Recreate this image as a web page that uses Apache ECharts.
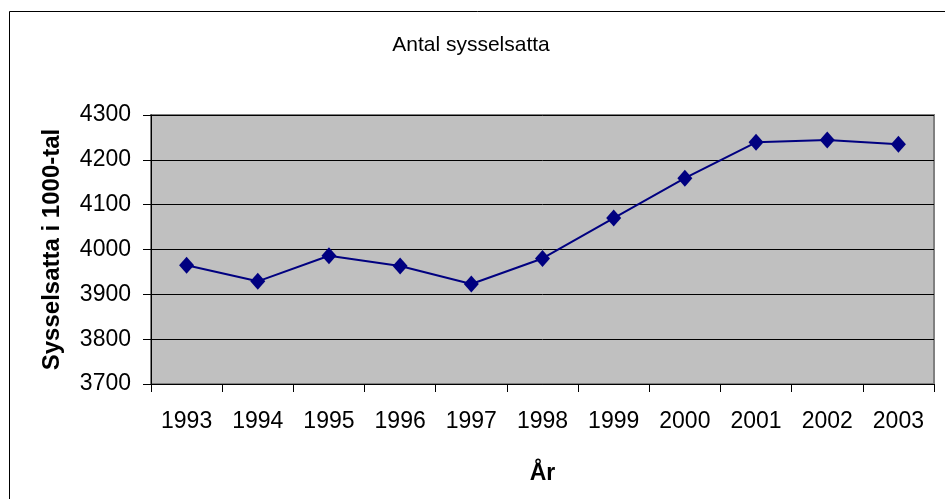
<!DOCTYPE html>
<html><head><meta charset="utf-8">
<script src="https://cdn.jsdelivr.net/npm/echarts@6/dist/echarts.min.js"></script>
<style>html,body{margin:0;padding:0;background:#fff}#c{width:945px;height:499px}</style>
</head><body><div id="c"></div>
<script>
const years = ['1993','1994','1995','1996','1997','1998','1999','2000','2001','2002','2003'];
const employed = [3965, 3929, 3986, 3963, 3923, 3980, 4070, 4159, 4239, 4244, 4235];
const yMin = 3700, yMax = 4300, yStep = 100;
const titleText = 'Antal sysselsatta';
const yName = 'Sysselsatta i 1000-tal';
const xName = 'År';

const font = '"Liberation Sans", Arial, sans-serif';
const chart = echarts.init(document.getElementById('c'), null, {renderer: 'canvas'});
chart.setOption({
  animation: false,
  backgroundColor: '#fff',
  title: {text: titleText, left: 466, top: 30, textAlign: 'center',
    textStyle: {fontFamily: font, fontSize: 21, fontWeight: 'normal', color: '#000'}},
  graphic: [{type: 'rect', shape: {x: 9.5, y: 11.5, width: 1000, height: 1000},
    style: {fill: 'none', stroke: '#000', lineWidth: 1}, silent: true, z: -1}],
  grid: {left: 151, right: 11, top: 115, bottom: 115, show: true,
    backgroundColor: '#c0c0c0', borderColor: '#808080', borderWidth: 2},
  xAxis: {type: 'category', data: years, boundaryGap: true,
    name: xName, nameLocation: 'middle', nameGap: 78,
    nameTextStyle: {fontFamily: font, fontSize: 23, fontWeight: 'bold', color: '#000'},
    axisLine: {lineStyle: {color: '#000', width: 1}},
    axisTick: {show: true, length: 8, lineStyle: {color: '#000'}},
    axisLabel: {fontFamily: font, fontSize: 23, color: '#000', margin: 26},
    splitLine: {show: false}},
  yAxis: {type: 'value', min: yMin, max: yMax, interval: yStep,
    name: yName, nameLocation: 'middle', nameGap: 87, nameRotate: 90,
    nameTextStyle: {fontFamily: font, fontSize: 24, fontWeight: 'bold', color: '#000'},
    axisLine: {show: true, lineStyle: {color: '#000', width: 1}},
    axisTick: {show: true, length: 8, lineStyle: {color: '#000'}},
    axisLabel: {fontFamily: font, fontSize: 23, color: '#000', margin: 20,
      formatter: v => String(v)},
    splitLine: {show: true, lineStyle: {color: '#000', width: 1}}},
  series: [{type: 'line', data: employed, symbol: 'diamond', symbolSize: [15, 17],
    lineStyle: {color: '#000080', width: 2}, itemStyle: {color: '#000080'}}]
});
</script></body></html>
